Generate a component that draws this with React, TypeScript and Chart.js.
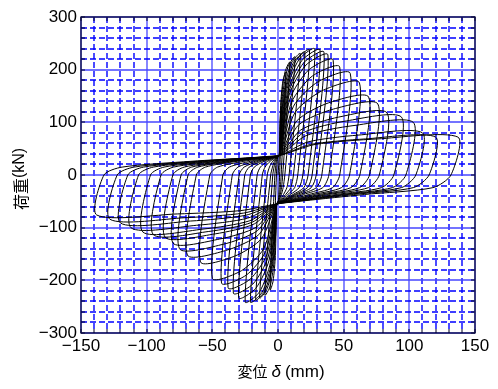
import React, { useEffect, useRef } from "react";
import { Chart, registerables } from "chart.js";

Chart.register(...registerables);

// Positive-side cycle peaks (displacement mm, load kN)
const posDisp = [3, 6, 9, 13, 17, 20.5, 24, 28, 32, 35, 38, 42, 47, 55, 62, 69, 76, 83, 94, 103, 110, 120, 137];
const posLoad = [130, 195, 214, 224, 230, 233, 237, 239, 237, 233, 228, 218, 205, 193, 175, 148, 135, 118, 110, 100, 80, 72, 72];
// Negative-side cycle peaks (magnitudes)
const negDisp = [3, 6, 10, 14, 17, 21, 25, 30, 34, 38, 43, 50, 59, 69, 75, 80, 86, 95, 103, 112, 120, 128, 138];
const negLoad = [130, 218, 228, 233, 237, 241, 241, 233, 224, 214, 205, 196, 165, 152, 140, 129, 118, 113, 108, 100, 91, 84, 76];
// Pinching pivots where reloading branches converge
const upperPivot = { x: 1, y: 37 };
const lowerPivot = { x: -1, y: -55 };

const xMin = -150, xMax = 150, xStep = 10, xLabelEvery = 50;
const yMin = -300, yMax = 300, yStep = 20, yLabelEvery = 100;

const fmt = (v: number) => (v < 0 ? "\u2212" + Math.abs(v) : String(v));

function buildPath() {
  const pts: { x: number; y: number }[] = [{ x: 0, y: 0 }];
  const up = upperPivot, lo = lowerPivot;
  for (let i = 0; i < posDisp.length; i++) {
    const a = posDisp[i], P = posLoad[i], b = negDisp[i], N = negLoad[i];
    pts.push({ x: up.x, y: up.y });
    pts.push({ x: up.x + 0.2 * (a - up.x), y: up.y + 0.6 * (P - up.y) });
    pts.push({ x: up.x + 0.55 * (a - up.x), y: up.y + 0.9 * (P - up.y) });
    pts.push({ x: a, y: P });
    const u = Math.min(P / 28 + 0.02 * a, 0.6 * a);
    const r = a - u;
    pts.push({ x: r, y: 0 });
    pts.push({ x: r - 0.1 * a, y: -24 });
    pts.push({ x: 0.5 * r, y: -37 });
    pts.push({ x: 0.15 * r, y: -49 });
    pts.push({ x: lo.x, y: lo.y });
    pts.push({ x: lo.x + 0.2 * (-b - lo.x), y: lo.y + 0.6 * (-N - lo.y) });
    pts.push({ x: lo.x + 0.55 * (-b - lo.x), y: lo.y + 0.9 * (-N - lo.y) });
    pts.push({ x: -b, y: -N });
    const w = Math.min(N / 28 + 0.02 * b, 0.6 * b);
    const s = b - w;
    pts.push({ x: -s, y: 0 });
    pts.push({ x: -s + 0.1 * b, y: 15 });
    pts.push({ x: -0.5 * s, y: 26 });
    pts.push({ x: -0.15 * s, y: 33 });
  }
  pts.push({ x: up.x, y: up.y });
  return pts;
}

const gridPlugin = {
  id: "gridPlugin",
  beforeDatasetsDraw(chart: any) {
    const { ctx, chartArea: ca, scales } = chart;
    const xs = scales.x, ys = scales.y;
    ctx.save();
    for (let v = xMin; v <= xMax; v += xStep) {
      const major = v % xLabelEvery === 0;
      const px = Math.round(xs.getPixelForValue(v));
      ctx.lineWidth = major ? 1.3 : 1.4;
      ctx.strokeStyle = major ? "rgb(70,70,255)" : "rgb(0,0,255)";
      ctx.setLineDash(major ? [] : [6, 3]);
      ctx.beginPath();
      ctx.moveTo(px, ca.top);
      ctx.lineTo(px, ca.bottom);
      ctx.stroke();
    }
    for (let v = yMin; v <= yMax; v += yStep) {
      const major = v % yLabelEvery === 0;
      const py = Math.round(ys.getPixelForValue(v));
      ctx.lineWidth = major ? 1.3 : 1.4;
      ctx.strokeStyle = major ? "rgb(70,70,255)" : "rgb(0,0,255)";
      ctx.setLineDash(major ? [] : [6, 3]);
      ctx.beginPath();
      ctx.moveTo(ca.left, py);
      ctx.lineTo(ca.right, py);
      ctx.stroke();
    }
    ctx.restore();
  },
};

const frameAndTitles = {
  id: "frameAndTitles",
  afterDraw(chart: any) {
    const { ctx, chartArea: ca, scales } = chart;
    const xs = scales.x, ys = scales.y;
    ctx.save();
    // inner ticks
    ctx.strokeStyle = "#000020";
    ctx.lineWidth = 1;
    ctx.setLineDash([]);
    ctx.beginPath();
    for (let v = xMin; v <= xMax; v += xStep) {
      const px = Math.round(xs.getPixelForValue(v));
      ctx.moveTo(px, ca.bottom);
      ctx.lineTo(px, ca.bottom - 4);
      ctx.moveTo(px, ca.top);
      ctx.lineTo(px, ca.top + 4);
    }
    for (let v = yMin; v <= yMax; v += yStep) {
      const py = Math.round(ys.getPixelForValue(v));
      ctx.moveTo(ca.left, py);
      ctx.lineTo(ca.left + 4, py);
      ctx.moveTo(ca.right, py);
      ctx.lineTo(ca.right - 4, py);
    }
    ctx.stroke();
    // frame
    ctx.strokeStyle = "#10103a";
    ctx.lineWidth = 1.3;
    ctx.strokeRect(ca.left, ca.top, ca.right - ca.left, ca.bottom - ca.top);

    // x title: 変位 δ (mm)
    ctx.fillStyle = "#000";
    ctx.textBaseline = "alphabetic";
    const f1 = '15px "Noto Sans CJK JP"';
    const f2 = 'italic 17px "Liberation Sans"';
    const f3 = '17px "Liberation Sans"';
    ctx.font = f1; const w1 = ctx.measureText("変位").width;
    ctx.font = f2; const w2 = ctx.measureText("δ").width;
    ctx.font = f3; const w3 = ctx.measureText("(mm)").width;
    const gapA = 4, gapB = 4;
    const total = w1 + gapA + w2 + gapB + w3;
    let x0 = 281 - total / 2;
    const base = 377;
    ctx.font = f1; ctx.fillText("変位", x0, base); x0 += w1 + gapA;
    ctx.font = f2; ctx.fillText("δ", x0, base); x0 += w2 + gapB;
    ctx.font = f3; ctx.fillText("(mm)", x0, base);

    // y title: 荷重(kN)
    ctx.translate(20, 179);
    ctx.rotate(-Math.PI / 2);
    ctx.textBaseline = "middle";
    const g1 = '16px "Noto Sans CJK JP"';
    const g2 = '16px "Liberation Sans"';
    ctx.font = g1; const v1 = ctx.measureText("荷重").width;
    ctx.font = g2; const v2 = ctx.measureText("(kN)").width;
    let y0 = -(v1 + v2) / 2;
    ctx.font = g1; ctx.fillText("荷重", y0, 1); y0 += v1;
    ctx.font = g2; ctx.fillText("(kN)", y0, 0);
    ctx.restore();
  },
};

export default function App() {
  const ref = useRef<HTMLCanvasElement | null>(null);
  useEffect(() => {
    if (!ref.current) return;
    const chart = new Chart(ref.current, {
      type: "scatter",
      data: {
        datasets: [
          {
            data: buildPath(),
            showLine: true,
            borderColor: "#000",
            borderWidth: 1,
            pointRadius: 0,
            tension: 0.25,
            fill: false,
          },
        ],
      },
      options: {
        animation: false,
        responsive: false,
        devicePixelRatio: 1,
        layout: { padding: { left: 0, right: 23, top: 17, bottom: 0 } },
        plugins: { legend: { display: false }, tooltip: { enabled: false } },
        scales: {
          x: {
            type: "linear",
            min: xMin,
            max: xMax,
            afterFit: (s: any) => { s.height = 56; },
            ticks: {
              stepSize: xStep,
              autoSkip: false,
              maxRotation: 0,
              padding: 3,
              color: "#000",
              font: { family: "Liberation Sans", size: 17 },
              callback: (v: any) => (Number(v) % xLabelEvery === 0 ? fmt(Number(v)) : ""),
            },
            grid: { display: false, drawTicks: false },
            border: { display: false },
          },
          y: {
            type: "linear",
            min: yMin,
            max: yMax,
            afterFit: (s: any) => { s.width = 81; },
            ticks: {
              stepSize: yStep,
              autoSkip: false,
              padding: 4,
              color: "#000",
              font: { family: "Liberation Sans", size: 17 },
              callback: (v: any) => (Number(v) % yLabelEvery === 0 ? fmt(Number(v)) : ""),
            },
            grid: { display: false, drawTicks: false },
            border: { display: false },
          },
        },
      },
      plugins: [gridPlugin, frameAndTitles],
    } as any);
    return () => chart.destroy();
  }, []);
  return (
    <div style={{ position: "fixed", left: 0, top: 0, width: 498, height: 389, background: "#fff" }}>
      <canvas ref={ref} width={498} height={389} style={{ display: "block" }} />
    </div>
  );
}
